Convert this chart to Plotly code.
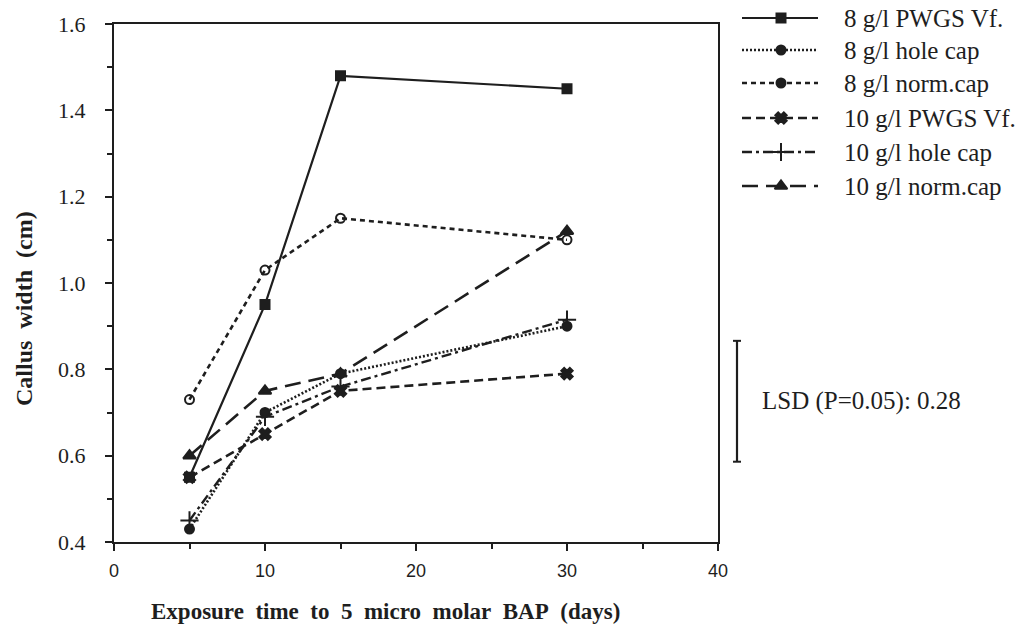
import plotly.graph_objects as go

# Exposure time (days) and callus width (cm) for each treatment
days = [5, 10, 15, 30]

pwgs_8 = [0.55, 0.95, 1.48, 1.45]
hole_8 = [0.43, 0.70, 0.79, 0.90]
norm_8 = [0.73, 1.03, 1.15, 1.10]
pwgs_10 = [0.55, 0.65, 0.75, 0.79]
hole_10 = [0.45, 0.69, 0.76, 0.915]
norm_10 = [0.60, 0.75, 0.79, 1.12]

series_names = [
    "8 g/l PWGS Vf.",
    "8 g/l hole cap",
    "8 g/l norm.cap",
    "10 g/l PWGS Vf.",
    "10 g/l hole cap",
    "10 g/l norm.cap",
]
series_values = [pwgs_8, hole_8, norm_8, pwgs_10, hole_10, norm_10]

lsd_value = 0.28
lsd_label = "LSD (P=0.05): 0.28"

x_ticks = [0, 10, 20, 30, 40]
y_ticks = [0.4, 0.6, 0.8, 1.0, 1.2, 1.4, 1.6]

W, H = 1023, 632
INK = "#1e1e1e"
SERIF = "Liberation Serif, Times New Roman, serif"
SANS = "Liberation Sans, Arial, sans-serif"
SP = "&nbsp;"

# plotting box in pixels (left, right, top, bottom)
PL, PR, PT, PB = 114, 718, 24, 542


def px_x(p):
    return p / W


def px_y(p):
    return 1 - p / H


styles = [
    dict(dash="solid", width=2.2, symbol="square", size=9),
    dict(dash="2px,2px", width=2.6, symbol="circle", size=9),
    dict(dash="5px,4px", width=2.6, symbol="circle-open", size=9),
    dict(dash="9px,5px", width=2.6, symbol="x", size=10),
    dict(dash="10px,4px,3px,4px", width=2.4, symbol="cross-thin-open", size=13),
    dict(dash="16px,8px", width=2.6, symbol="triangle-up", size=11),
]

fig = go.Figure()
for name, vals, st in zip(series_names, series_values, styles):
    fig.add_trace(go.Scatter(
        x=days, y=vals, name=name, mode="lines+markers", showlegend=False,
        line=dict(color=INK, width=st["width"], dash=st["dash"]),
        marker=dict(symbol=st["symbol"], size=st["size"], color=INK,
                    line=dict(color=INK, width=2)),
    ))

# Key: sample line with a marker in the middle, on its own pixel-unit axes
key_x0, key_x1, key_mid, key_text = 742, 818, 781, 842
key_rows = [18, 50, 83, 118, 152, 186]
legend_styles = [dict(st) for st in styles]
legend_styles[2]["symbol"] = "circle"
for name, st, yy in zip(series_names, legend_styles, key_rows):
    fig.add_trace(go.Scatter(
        x=[key_x0, key_x1], y=[yy, yy], xaxis="x2", yaxis="y2",
        mode="lines", showlegend=False, hoverinfo="skip",
        line=dict(color=INK, width=st["width"], dash=st["dash"]),
    ))
    fig.add_trace(go.Scatter(
        x=[key_mid], y=[yy], xaxis="x2", yaxis="y2",
        mode="markers", showlegend=False, hoverinfo="skip",
        marker=dict(symbol=st["symbol"], size=st["size"], color=INK,
                    line=dict(color=INK, width=2)),
    ))
    fig.add_annotation(xref="x2", yref="y2", x=key_text, y=yy, text=name,
                       showarrow=False, xanchor="left", yanchor="middle",
                       font=dict(family=SERIF, size=25, color=INK))

# LSD bar drawn to the right of the plotting area
lsd_center = 0.726
lsd_lo = lsd_center - lsd_value / 2
lsd_hi = lsd_center + lsd_value / 2
bar_x = px_x(737)
cap = 4 / W
fig.add_shape(type="line", xref="paper", yref="y", x0=bar_x, x1=bar_x,
              y0=lsd_lo, y1=lsd_hi, line=dict(color=INK, width=2.2))
for yy in (lsd_lo, lsd_hi):
    fig.add_shape(type="line", xref="paper", yref="y", x0=bar_x - cap, x1=bar_x + cap,
                  y0=yy, y1=yy, line=dict(color=INK, width=2))
fig.add_annotation(xref="paper", yref="y", x=px_x(760), y=lsd_center,
                   text=lsd_label, showarrow=False, xanchor="left",
                   font=dict(family=SERIF, size=25, color=INK))

# Axis titles
x_title = (SP * 2).join(["Exposure", "time", "to", "5", "micro", "molar", "BAP", "(days)"])
y_title = (SP * 2).join(["Callus", "width", "(cm)"])
fig.add_annotation(xref="paper", yref="paper", x=px_x(385), y=px_y(611),
                   text=f"<b>{x_title}</b>", showarrow=False,
                   xanchor="center", yanchor="middle",
                   font=dict(family=SERIF, size=23, color=INK))
fig.add_annotation(xref="paper", yref="paper", x=px_x(24), y=px_y(309),
                   text=f"<b>{y_title}</b>", textangle=-90, showarrow=False,
                   xanchor="center", yanchor="middle",
                   font=dict(family=SERIF, size=24, color=INK))

fig.update_layout(
    width=W, height=H,
    margin=dict(l=0, r=0, t=0, b=0),
    paper_bgcolor="white", plot_bgcolor="white",
    showlegend=False,
    xaxis=dict(
        domain=[px_x(PL), px_x(PR)],
        range=[0, 40], tickvals=x_ticks, ticktext=[str(v) for v in x_ticks],
        showgrid=False, zeroline=False, showline=True, mirror=True,
        linecolor=INK, linewidth=2.2, ticks="outside", ticklen=7, tickwidth=2,
        tickcolor=INK, ticklabelstandoff=4,
        minor=dict(dtick=5, ticks="outside", ticklen=5, tickwidth=2, tickcolor=INK),
        tickfont=dict(family=SANS, size=18, color=INK), automargin=False,
    ),
    yaxis=dict(
        domain=[px_y(PB), px_y(PT)],
        range=[0.4, 1.6], tickvals=y_ticks, ticktext=[f"{v:.1f}" for v in y_ticks],
        showgrid=False, zeroline=False, showline=True, mirror=True,
        linecolor=INK, linewidth=2.2, ticks="outside", ticklen=7, tickwidth=2,
        tickcolor=INK, ticklabelstandoff=15,
        minor=dict(dtick=0.1, ticks="outside", ticklen=5, tickwidth=2, tickcolor=INK),
        tickfont=dict(family=SERIF, size=22, color=INK), automargin=False,
    ),
    xaxis2=dict(domain=[px_x(725), 1], range=[725, W], visible=False,
                fixedrange=True),
    yaxis2=dict(domain=[0, 1], range=[H, 0], visible=False, fixedrange=True,
                anchor="x2"),
)

fig.write_html("out.html")
